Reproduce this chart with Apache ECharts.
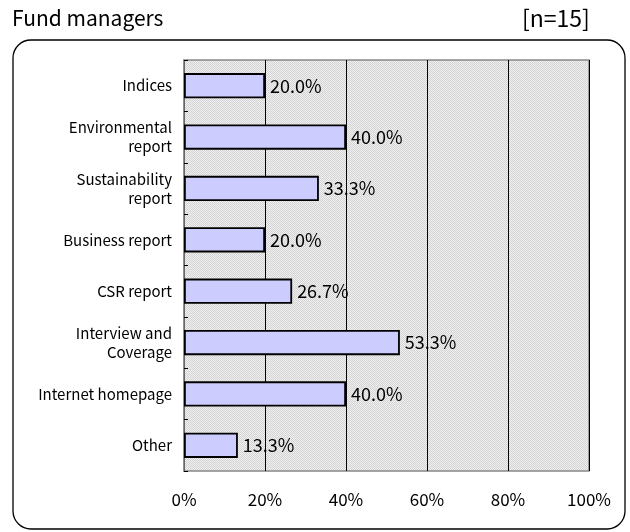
<!DOCTYPE html>
<html><head><meta charset="utf-8">
<script src="https://cdn.jsdelivr.net/npm/echarts@6/dist/echarts.min.js"></script>
<style>html,body{margin:0;padding:0;background:#fff}#c{width:630px;height:532px}</style>
</head><body><div id="c"></div>
<script>
const categories = ["Indices","Environmental\nreport","Sustainability\nreport","Business report","CSR report","Interview and\nCoverage","Internet homepage","Other"];
const values = [20.0, 40.0, 33.3, 20.0, 26.7, 53.3, 40.0, 13.3];
const xTicks = [0, 20, 40, 60, 80, 100];
const jp = '"Noto Sans CJK JP",sans-serif';

// dotted grey background pattern
const pat = document.createElement('canvas');
pat.width = 2; pat.height = 2;
const pc = pat.getContext('2d');
pc.fillStyle = '#efefef'; pc.fillRect(0,0,2,2);
pc.fillStyle = '#d4d4d4'; pc.fillRect(0,0,1,1); pc.fillRect(1,1,1,1);

const chart = echarts.init(document.getElementById('c'), null, {renderer:'canvas'});
chart.setOption({
  animation:false,
  backgroundColor:'#fff',
  graphic:[
    {type:'rect', shape:{x:13,y:40,width:612,height:489,r:18}, style:{fill:'none',stroke:'#000',lineWidth:1.3}, z:-1},
    {type:'text', left:12, top:8, style:{text:'Fund managers', font:'21px '+jp, fill:'#000'}},
    {type:'text', left:522, top:7, style:{text:'[n=15]', font:'23px '+jp, fill:'#000'}}
  ],
  grid:{left:184, right:41, top:60, bottom:61, show:true, backgroundColor:{image:pat, repeat:'repeat'}, borderColor:'#888', borderWidth:1.5},
  xAxis:{type:'value', min:0, max:100, interval:20,
    axisLine:{show:false}, axisTick:{show:false},
    splitLine:{show:true, lineStyle:{color:'#000', width:1}},
    axisLabel:{formatter:v=>xTicks.includes(v)?v+'%':'', margin:20, fontSize:17, fontFamily:jp, color:'#000'}},
  yAxis:{type:'category', data:categories, inverse:true,
    axisLine:{show:true, lineStyle:{color:'#888', width:1.5}},
    axisTick:{show:true, inside:true, length:4, lineStyle:{color:'#000'}},
    axisLabel:{fontSize:15, fontFamily:jp, color:'#000', margin:12, lineHeight:19, align:'right'}},
  series:[{type:'bar', data:values, barWidth:'49%',
    itemStyle:{color:'#ccccff', borderColor:'#000', borderWidth:1.8},
    label:{show:true, position:'right', distance:5, formatter:p=>p.value.toFixed(1)+'%', fontSize:18, fontFamily:jp, color:'#000'}}]
});
</script></body></html>
